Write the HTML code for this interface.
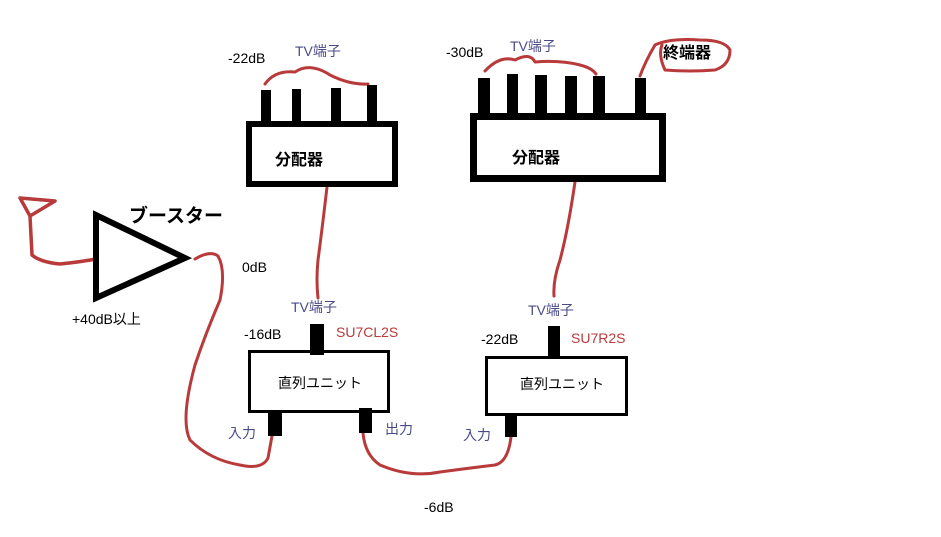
<!DOCTYPE html>
<html><head><meta charset="utf-8"><style>
body{margin:0;background:#fff;}
svg{display:block;font-family:"Liberation Sans","Noto Sans CJK JP",sans-serif;}
</style></head><body>
<svg width="941" height="537" viewBox="0 0 941 537" xmlns="http://www.w3.org/2000/svg">
<g fill="none" stroke="#b83a3a" stroke-width="3" stroke-linecap="round" stroke-linejoin="round">
<path d="M20 198 L30 216 L55 201 Z M30 216 L32 255 Q40 262 60 264 Q80 262 96 259" stroke-width="3.5"/>
<path d="M195 259 Q210 250 218 256 Q226 270 220 300 Q205 335 195 365 Q180 420 190 440 Q210 460 240 465 Q262 470 268 458 L272 436"/>
<path d="M327 187 Q322 230 318 260 Q316 280 318 298"/>
<path d="M575 182 Q568 230 560 260 Q553 280 554 296"/>
<path d="M363 433 Q365 455 380 465 Q410 478 440 472 Q470 468 495 465 Q508 462 511 437"/>
<path d="M265 84 Q275 70 295 72 Q310 62 330 75 Q350 85 368 84"/>
<path d="M485 71 Q500 55 515 60 Q530 52 535 62 Q560 60 580 65 Q592 68 596 74"/>
<path d="M640 76 Q645 62 655 45 Q670 38 700 40 Q725 40 730 50 Q730 65 715 70 Q690 72 665 70 Q658 55 662 45"/>
</g>
<polygon points="96,215 96,298 185,258" fill="none" stroke="#000" stroke-width="6" stroke-linejoin="miter"/>
<rect x="249" y="124" width="146" height="60" fill="none" stroke="#000" stroke-width="6"/>
<g fill="#000">
<rect x="261" y="90" width="10" height="34"/><rect x="292" y="89" width="9" height="35"/><rect x="331" y="88" width="10" height="36"/><rect x="367" y="85" width="10" height="39"/>
<rect x="478" y="78" width="12" height="36"/><rect x="507" y="74" width="11" height="40"/><rect x="535" y="75" width="12" height="39"/><rect x="565" y="76" width="12" height="38"/><rect x="593" y="76" width="12" height="38"/><rect x="635" y="78" width="11" height="36"/>
<rect x="310" y="324" width="14" height="31"/><rect x="268" y="410" width="14" height="26"/><rect x="359" y="408" width="13" height="25"/>
<rect x="548" y="326" width="12" height="30"/><rect x="505" y="413" width="12" height="24"/>
</g>
<rect x="473.5" y="116.5" width="189" height="62" fill="none" stroke="#000" stroke-width="7"/>
<rect x="249.5" y="351.5" width="139" height="60" fill="none" stroke="#000" stroke-width="3"/>
<rect x="486.5" y="357.5" width="140" height="57" fill="none" stroke="#000" stroke-width="3"/>
<g font-weight="bold" font-size="16" fill="#000">
<text x="275" y="165">分配器</text><text x="512" y="163">分配器</text><text x="663" y="58">終端器</text>
<text x="129" y="222" font-size="19">ブースター</text>
</g>
<g font-size="14" fill="#000">
<text x="228" y="63">-22dB</text><text x="446" y="57">-30dB</text>
<text x="242" y="272">0dB</text><text x="72" y="324">+40dB以上</text>
<text x="244" y="339">-16dB</text><text x="481" y="344">-22dB</text>
<text x="278" y="388">直列ユニット</text><text x="520" y="389">直列ユニット</text>
<text x="424" y="512">-6dB</text>
</g>
<g font-size="14" fill="#4a4a88">
<text x="295" y="56">TV端子</text><text x="510" y="51">TV端子</text>
<text x="291" y="312">TV端子</text><text x="528" y="315">TV端子</text>
<text x="228" y="438">入力</text><text x="385" y="434">出力</text><text x="463" y="440">入力</text>
</g>
<g font-size="14" fill="#b83a3a">
<text x="336" y="337">SU7CL2S</text><text x="571" y="343">SU7R2S</text>
</g>
</svg>
</body></html>
